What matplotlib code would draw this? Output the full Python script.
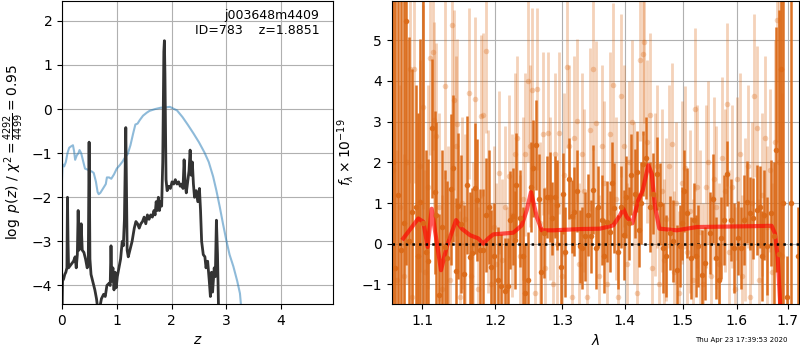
import matplotlib
matplotlib.use('Agg')
import matplotlib.pyplot as plt
from matplotlib.ticker import FixedLocator, FormatStrFormatter, NullLocator

# p(z) panel
pz_z = [0.0, 0.01, 0.03, 0.05, 0.07, 0.09, 0.10, 0.11, 0.12, 0.15, 0.18, 0.21, 0.24, 0.26,
        0.28, 0.295, 0.31, 0.33, 0.35, 0.37, 0.40, 0.43, 0.46, 0.48, 0.495, 0.51, 0.53, 0.56,
        0.60, 0.63, 0.66, 0.69, 0.72, 0.76, 0.79, 0.82, 0.86, 0.88, 0.895, 0.91, 0.93, 0.95,
        0.97, 0.99, 1.01, 1.04, 1.07, 1.10, 1.12, 1.14, 1.165, 1.19, 1.21, 1.24, 1.28, 1.32,
        1.35, 1.38, 1.41, 1.44, 1.47, 1.50, 1.53, 1.56, 1.59, 1.62, 1.65, 1.68, 1.70, 1.72,
        1.74, 1.76, 1.78, 1.80, 1.82, 1.84, 1.86, 1.87, 1.88, 1.90, 1.92, 1.95, 1.98, 2.01,
        2.04, 2.07, 2.10, 2.13, 2.16, 2.19, 2.21, 2.23, 2.25, 2.27, 2.30, 2.32, 2.34, 2.36,
        2.38, 2.40, 2.42, 2.45, 2.48, 2.51, 2.53, 2.55, 2.58, 2.61, 2.63, 2.66, 2.69, 2.71,
        2.73, 2.75, 2.78, 2.80, 2.82, 2.84, 2.86, 2.88]
pz_logp = [-4.8, -3.9, -3.85, -3.75, -3.7, -3.6, -2.0, -3.0, -3.6, -3.55, -3.5, -3.45, -3.35, -3.6,
           -3.3, -2.3, -3.2, -3.1, -2.6, -3.2, -3.25, -3.4, -3.6, -3.5, -0.75, -3.4, -3.75, -3.9,
           -4.1, -4.3, -4.6, -4.5, -4.3, -4.2, -4.25, -4.0, -3.95, -4.0, -3.1, -3.9, -3.6, -4.1,
           -3.7, -4.05, -3.8, -3.6, -3.4, -3.0, -3.1, -2.5, -0.42, -3.2, -3.35, -3.2, -3.0, -2.7,
           -2.55, -2.6, -2.7, -2.6, -2.55, -2.45, -2.6, -2.4, -2.5, -2.4, -2.45, -2.3, -2.4, -2.1,
           -2.3, -2.0, -2.3, -2.1, -2.2, -1.2, 1.3, 1.55, 0.8, -1.6, -1.85, -1.75, -1.8, -1.65,
           -1.7, -1.6, -1.7, -1.65, -1.75, -1.7, -1.8, -1.15, -1.7, -1.9, -1.6, -1.4, -0.93, -1.5,
           -1.2, -1.7, -2.0, -1.85, -2.1, -1.8, -2.3, -3.0, -3.3, -3.35, -3.6, -3.45, -3.9, -4.25,
           -3.7, -4.15, -3.6, -3.8, -2.52, -3.3, -4.6, -6.0]

chi_z = [0.0, 0.01, 0.04, 0.07, 0.10, 0.13, 0.16, 0.20, 0.22, 0.24, 0.27, 0.30, 0.32, 0.35,
         0.38, 0.42, 0.48, 0.55, 0.58, 0.62, 0.65, 0.67, 0.70, 0.75, 0.80, 0.82, 0.86, 0.90,
         0.95, 1.00, 1.05, 1.10, 1.15, 1.20, 1.25, 1.30, 1.34, 1.38, 1.42, 1.48, 1.55, 1.60,
         1.70, 1.80, 1.90, 1.97, 2.05, 2.10, 2.20, 2.30, 2.40, 2.50, 2.60, 2.68, 2.76, 2.82,
         2.88, 2.94, 3.00, 3.06, 3.13, 3.20, 3.25, 3.28]
chi_val = [-1.6, -1.25, -1.3, -1.2, -1.0, -0.88, -0.85, -0.82, -0.95, -1.15, -1.05, -1.0, -0.93, -1.0,
           -1.15, -1.35, -1.38, -1.42, -1.45, -1.65, -1.88, -1.93, -1.9, -1.8, -1.7, -1.55, -1.55, -1.58,
           -1.48, -1.35, -1.28, -1.2, -1.1, -1.02, -0.82, -0.55, -0.35, -0.33, -0.25, -0.15, -0.08, -0.04,
           0.0, 0.03, 0.04, 0.05, 0.0, -0.03, -0.18, -0.36, -0.55, -0.75, -0.98, -1.2, -1.53, -1.85,
           -2.21, -2.6, -2.97, -3.3, -3.57, -3.9, -4.18, -4.6]

# spectrum panel, strong points
dark_wave = [1.0625, 1.0652, 1.0690, 1.0725, 1.0760, 1.0788, 1.0833, 1.0864, 1.0914, 1.0945,
             1.0969, 1.1008, 1.1045, 1.1081, 1.1122, 1.1163, 1.1183, 1.1228, 1.1265, 1.1301,
             1.1334, 1.1380, 1.1415, 1.1449, 1.1478, 1.1516, 1.1558, 1.1600, 1.1642, 1.1672,
             1.1709, 1.1743, 1.1785, 1.1819, 1.1866, 1.1906, 1.1932, 1.1985, 1.2035, 1.2089,
             1.2142, 1.2177, 1.2207, 1.2255, 1.2287, 1.2305, 1.2355, 1.2400, 1.2439, 1.2472,
             1.2518, 1.2545, 1.2590, 1.2635, 1.2672, 1.2712, 1.2762, 1.2802, 1.2839, 1.2882,
             1.2918, 1.2971, 1.3011, 1.3046, 1.3098, 1.3149, 1.3187, 1.3226, 1.3270, 1.3314,
             1.3362, 1.3401, 1.3450, 1.3479, 1.3528, 1.3557, 1.3625, 1.3664, 1.3714, 1.3750,
             1.3785, 1.3826, 1.3886, 1.3942, 1.3997, 1.4028, 1.4068, 1.4108, 1.4169, 1.4200,
             1.4242, 1.4280, 1.4315, 1.4357, 1.4431, 1.4483, 1.4546, 1.4598, 1.4661, 1.4714,
             1.4779, 1.4833, 1.4898, 1.4953, 1.4990, 1.5029, 1.5083, 1.5148, 1.5203, 1.5240,
             1.5280, 1.5344, 1.5415, 1.5494, 1.5561, 1.5618, 1.5660, 1.5696, 1.5753, 1.5821,
             1.5891, 1.5949, 1.6019, 1.6078, 1.6148, 1.6206, 1.6265, 1.6323, 1.6393, 1.6454,
             1.6500, 1.6538, 1.6599, 1.6671, 1.6720, 1.6768, 1.6823, 1.6865, 1.6910, 1.6980,
             1.7080, 1.7220]
dark_flux = [2.0, -0.59, 1.2, -0.16, 0.5, 5.47, 0.07, 0.78, 0.90, -0.3,
             1.03, 0.5, -0.2, -0.43, 2.83, 1.26, 0.70, -1.27, 0.4, -0.08,
             -0.35, 1.34, 1.85, -0.67, 0.93, 0.48, -0.75, 1.44, -0.32, -0.23,
             1.36, 1.07, -0.16, -0.15, 0.70, 0.9, -0.57, -0.3, -0.9, -1.05,
             -1.17, -1.05, 0.58, 0.67, 0.1, 1.43, 0.62, -0.30, -1.21, -0.9,
             1.4, 1.85, 2.42, 1.11, -0.69, 0.26, 1.15, 1.15, 0.62, 1.15,
             0.95, -0.57, 1.23, -0.20, 1.60, 0.67, 0.79, 1.3, -0.06, -0.1,
             0.18, 0.71, 0.18, 1.33, -0.1, 0.9, 0.58, -0.30, 0.54, 0.3,
             1.49, 0.88, -0.2, 0.9, 0.22, 1.15, 0.5, 1.7, 1.23, 1.77,
             0.34, 1.0, 1.97, 2.1, 0.9, 1.23, 1.72, 0.98, -0.1, -0.3,
             0.26, 0.07, -0.64, -0.06, 0.5, 1.30, 0.75, -0.35, 0.58, -0.3,
             -0.06, -0.77, -0.48, 0.26, 1.11, -0.35, -0.9, 0.14, 0.58, 1.72,
             0.58, -0.1, 0.14, -0.1, 0.58, 1.03, 0.75, 0.62, 0.83, 0.9,
             -0.3, 0.71, -0.06, 0.75, 0.2, 2.31, -0.25, 4.3, 1.0, -1.3,
             1.0, -0.3]
dark_err = [8, 8, 8, 7, 7, 6, 5, 3.5, 3.0, 3.5,
            4, 8, 2.5, 2.5, 1.7, 2.0, 2.3, 2.0, 1.9, 1.9,
            1.9, 1.85, 1.8, 1.8, 1.8, 1.7, 1.7, 1.7, 1.6, 1.6,
            1.6, 1.5, 1.5, 1.5, 1.4, 1.4, 1.4, 1.3, 1.3, 1.3,
            1.3, 1.2, 1.2, 1.2, 1.2, 1.3, 1.2, 1.2, 1.2, 1.2,
            1.1, 1.2, 1.1, 1.1, 1.1, 1.1, 1.0, 1.1, 0.9, 1.0,
            1.1, 0.9, 1.0, 1.1, 1.0, 0.9, 1.1, 1.0, 0.9, 1.0,
            1.1, 1.0, 0.9, 1.1, 1.0, 1.0, 1.1, 0.9, 1.0, 1.0,
            1.0, 1.1, 0.9, 1.0, 1.1, 1.0, 0.9, 1.0, 1.1, 1.0,
            0.9, 1.0, 0.8, 1.0, 1.1, 1.0, 0.9, 1.0, 1.1, 1.0,
            0.9, 1.0, 1.1, 1.0, 0.9, 1.0, 1.1, 1.0, 0.9, 1.0,
            1.0, 1.1, 0.9, 1.0, 1.1, 1.0, 0.9, 1.0, 1.1, 0.8,
            1.0, 1.1, 0.9, 1.0, 1.1, 1.0, 0.9, 1.0, 1.1, 1.0,
            1.1, 1.1, 1.2, 1.3, 1.8, 3.0, 6.0, 7.0, 8.0, 1.0,
            8.0, 1.2]

# spectrum panel, weak points
light_wave = [1.0625, 1.0668, 1.0712, 1.0760, 1.0800, 1.0841, 1.0870, 1.0898, 1.0935, 1.0970,
              1.1006, 1.1040, 1.1070, 1.1103, 1.1147, 1.1156, 1.1187, 1.1225, 1.1262, 1.1301,
              1.1340, 1.1370, 1.1397, 1.1420, 1.1445, 1.1466, 1.1500, 1.1540, 1.1580, 1.1625,
              1.1660, 1.1690, 1.1709, 1.1750, 1.1793, 1.1819, 1.1862, 1.1900, 1.1940, 1.1975,
              1.2015, 1.2055, 1.2095, 1.2135, 1.2170, 1.2203, 1.2240, 1.2280, 1.2320, 1.2360,
              1.2400, 1.2440, 1.2481, 1.2510, 1.2536, 1.2575, 1.2617, 1.2655, 1.2695, 1.2735,
              1.2773, 1.2810, 1.2850, 1.2890, 1.2920, 1.2952, 1.2990, 1.3030, 1.3065, 1.3105,
              1.3145, 1.3185, 1.3226, 1.3265, 1.3305, 1.3345, 1.3385, 1.3430, 1.3487, 1.3538,
              1.3580, 1.3620, 1.3665, 1.3710, 1.3755, 1.3805, 1.3850, 1.3895, 1.3947, 1.3990,
              1.4035, 1.4080, 1.4118, 1.4160, 1.4200, 1.4265, 1.4305, 1.4335, 1.4380, 1.4431,
              1.4470, 1.4510, 1.4550, 1.4590, 1.4630, 1.4670, 1.4710, 1.4760, 1.4807, 1.4850,
              1.4890, 1.4940, 1.4990, 1.5040, 1.5085, 1.5130, 1.5180, 1.5225, 1.5270, 1.5320,
              1.5370, 1.5420, 1.5470, 1.5520, 1.5570, 1.5620, 1.5670, 1.5720, 1.5770, 1.5809,
              1.5860, 1.5910, 1.5960, 1.6010, 1.6060, 1.6110, 1.6160, 1.6210, 1.6260, 1.6300,
              1.6335, 1.6393, 1.6440, 1.6490, 1.6540, 1.6590, 1.6640, 1.6690, 1.6740, 1.6780,
              1.6830, 1.6880]
light_flux = [1.8, -0.9, 0.9, -0.8, 2.0, 4.30, -1.3, 4.30, 0.4, 1.9,
              3.36, -0.7, 1.4, 4.57, 4.71, 3.05, 2.64, 0.9, -1.1, 3.88,
              0.2, -0.9, 5.37, 3.53, 2.4, 2.93, -1.3, 1.0, 0.6, 3.70,
              -0.8, 0.0, 3.56, -1.1, 3.13, 3.17, 4.73, 0.8, -1.0, 0.4,
              -0.5, 1.74, -0.4, 0.9, -1.1, 1.66, 0.7, 2.2, 2.6, -0.3,
              1.1, 2.2, 4.0, 2.4, 3.78, -1.2, 3.80, 0.5, 2.7, -0.6,
              2.72, 1.1, -1.0, 2.2, 0.0, 2.72, -0.8, 1.7, 4.34, 2.4,
              -1.3, 2.6, 3.02, -0.5, 2.2, 1.3, -1.3, 2.8, 4.30, 2.97,
              -0.8, 2.4, 1.5, -1.0, 2.7, 3.9, 1.1, -1.3, 3.63, 2.4,
              -0.5, 2.0, 3.0, 1.0, -1.2, 4.52, 4.66, 4.96, 2.5, 3.17,
              -0.6, 1.2, 1.9, -1.0, 1.3, -0.4, 0.6, 1.9, 2.44, -0.7,
              1.0, -1.2, 1.5, 1.87, -0.2, 0.8, -0.9, 3.30, 1.4, 0.3,
              -1.0, 1.4, 2.0, -0.8, 1.6, 0.9, -0.5, 2.1, 1.3, 3.42,
              -0.2, 1.4, -1.1, 1.6, 2.2, -0.8, 0.6, 1.9, -1.3, 1.0,
              3.63, 2.85, -0.9, 1.2, 2.6, 0.4, 1.8, -0.7, 2.5, 5.5,
              2.0, -0.3]
light_err = [3.2, 3.2, 3.0, 3.0, 3.0, 2.8, 2.8, 2.8, 2.6, 2.6,
             2.5, 2.5, 2.5, 2.4, 2.4, 2.4, 2.3, 2.3, 2.3, 2.3,
             2.2, 2.2, 2.2, 2.2, 2.2, 2.1, 2.1, 2.1, 2.1, 2.1,
             2.0, 2.0, 2.0, 2.0, 2.0, 2.0, 2.0, 2.0, 2.0, 2.0,
             2.0, 2.0, 2.0, 2.0, 2.0, 2.0, 2.0, 2.0, 2.0, 2.0,
             2.0, 2.0, 2.0, 2.0, 2.0, 2.0, 2.0, 2.0, 2.0, 2.0,
             2.0, 2.0, 2.0, 2.0, 2.0, 2.0, 2.0, 2.0, 2.0, 2.0,
             2.0, 2.0, 2.0, 2.0, 2.0, 2.0, 2.0, 2.0, 2.0, 2.0,
             2.0, 2.0, 2.0, 2.0, 2.0, 2.0, 2.0, 2.0, 2.0, 2.0,
             2.0, 2.0, 2.0, 2.0, 2.0, 2.0, 2.0, 2.0, 2.0, 2.0,
             2.0, 2.0, 2.0, 2.0, 2.0, 2.0, 2.0, 2.0, 2.0, 2.0,
             2.0, 2.0, 2.0, 2.0, 2.0, 2.0, 2.0, 2.0, 2.0, 2.0,
             2.0, 2.0, 2.0, 2.0, 2.0, 2.0, 2.0, 2.0, 2.0, 2.0,
             2.0, 2.0, 2.0, 2.0, 2.0, 2.0, 2.0, 2.0, 2.0, 2.0,
             2.0, 2.0, 2.0, 2.0, 2.0, 2.0, 2.0, 2.2, 2.5, 3.0,
             4.0, 4.0]

# best-fit model
model_wave = [1.0754, 1.0948, 1.1013, 1.1071, 1.1124, 1.1167, 1.1248, 1.1325, 1.1452, 1.1530,
              1.1644, 1.1760, 1.1830, 1.1900, 1.1972, 1.2260, 1.2384, 1.2458, 1.2522, 1.2608,
              1.2683, 1.2859, 1.3275, 1.3595, 1.3812, 1.3923, 1.3978, 1.4035, 1.4129, 1.4230,
              1.4305, 1.4401, 1.4460, 1.4517, 1.4592, 1.4899, 1.5258, 1.6255, 1.6681, 1.6748,
              1.6802, 1.6848, 1.6870]
model_flux = [0.13, 0.62, 0.54, -0.08, 0.86, 0.33, -0.65, -0.08, 0.58, 0.37,
              0.21, 0.13, 0.0, 0.13, 0.23, 0.27, 0.45, 0.82, 1.27, 0.66,
              0.33, 0.33, 0.36, 0.37, 0.45, 0.70, 0.86, 0.66, 0.50, 1.07,
              1.31, 1.93, 1.72, 0.90, 0.37, 0.33, 0.41, 0.43, 0.44, 0.25,
              -0.32, -1.39, -2.5]

wave_ticks = [1.1, 1.2, 1.3, 1.4, 1.5, 1.6, 1.7]

orange = '#db6a18'

fig = plt.figure(figsize=(8, 3.5), dpi=100)

ax = fig.add_axes([0.0775, 0.1314, 0.3388, 0.8657])
ax.plot(chi_z, chi_val, color='tab:blue', alpha=0.5, lw=1.5)
ax.plot(pz_z, pz_logp, color='0.2', lw=2)
ax.set_xlim(0, 4.95)
ax.set_ylim(-4.42, 2.45)
ax.set_xticks([0, 1, 2, 3, 4])
ax.set_yticks([-4, -3, -2, -1, 0, 1, 2])
ax.grid()
ax.set_xlabel('$z$')
ax.set_ylabel(r'$\log\ p(z)$' + ' / ' + r'$\chi^2=\frac{4292}{4499}=0.95$')
ax.text(0.95, 0.975, 'j003648m4409\nID=783    z=1.8851', ha='right', va='top',
        fontsize=9, transform=ax.transAxes)

ax2 = fig.add_axes([0.4896, 0.1314, 0.5095, 0.8657])
ax2.errorbar(light_wave, light_flux, yerr=light_err, fmt='o', color=orange, alpha=0.3,
             ms=4, elinewidth=2.0, capsize=0, mew=0)
ax2.errorbar(dark_wave, dark_flux, yerr=dark_err, fmt='o', color=orange, alpha=0.95,
             ms=4, elinewidth=1.8, capsize=0, mew=0)
ax2.plot(model_wave, model_flux, color='red', alpha=0.65, lw=3)
ax2.axhline(0, color='k', ls=':', lw=1.8)
ax2.set_xscale('log')
ax2.set_xlim(1.0606, 1.724)
ax2.set_ylim(-1.48, 5.96)
ax2.xaxis.set_major_locator(FixedLocator(wave_ticks))
ax2.xaxis.set_major_formatter(FormatStrFormatter('%.1f'))
ax2.xaxis.set_minor_locator(NullLocator())
ax2.set_yticks([-1, 0, 1, 2, 3, 4, 5])
ax2.grid()
ax2.set_xlabel(r'$\lambda$')
ax2.set_ylabel(r'$f_\lambda\times10^{-19}$')

fig.text(0.985, 0.029, 'Thu Apr 23 17:39:53 2020', ha='right', va='center', fontsize=5)

fig.savefig('out.png', dpi=100)
